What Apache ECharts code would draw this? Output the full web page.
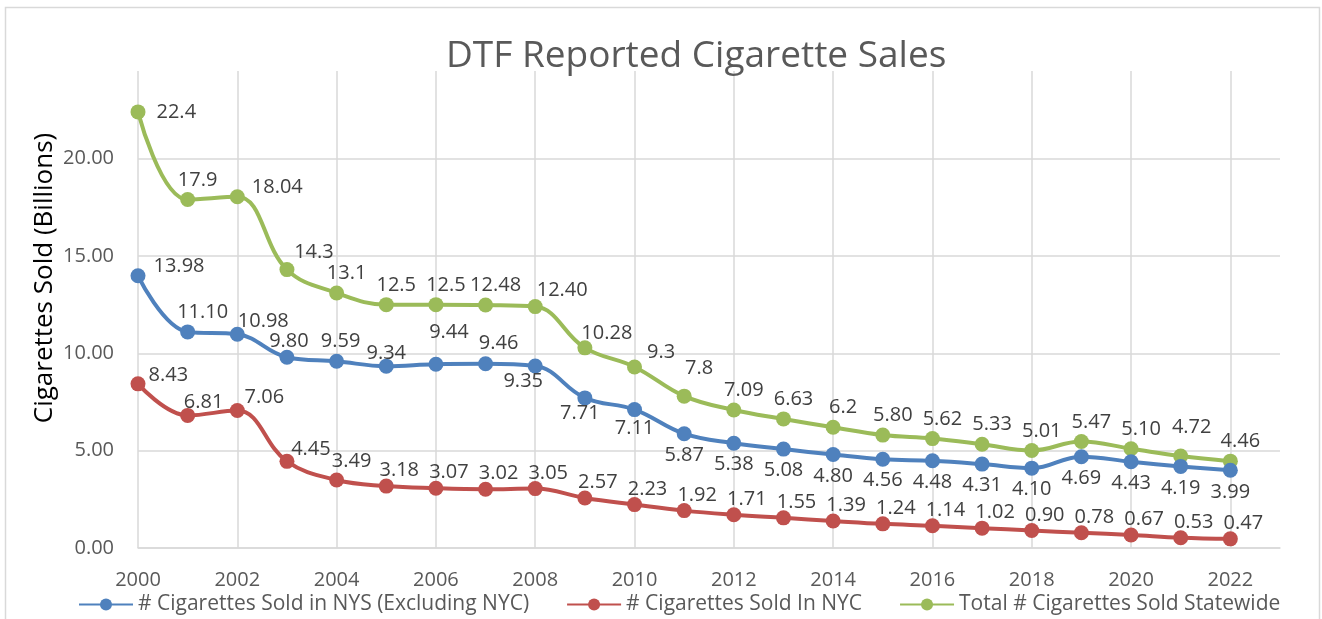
<!DOCTYPE html>
<html lang="en">
<head>
    <meta charset="UTF-8">
    <title>DTF Reported Cigarette Sales</title>
    <script src="https://cdn.jsdelivr.net/npm/echarts@6/dist/echarts.min.js"></script>
    <style>
        *{
            margin: 0;
            padding: 0;
        }
        html,body{
            width: 100%;
            height: 100%;
            background: #fff;
        }
        .main{
            width: 1322px;
            height: 619px;
        }
    </style>
</head>
<body>
<div class="main"></div>
<script>
    // data (labels kept as shown)
    const years = ['2000', '2001', '2002', '2003', '2004', '2005', '2006', '2007', '2008', '2009', '2010', '2011',
        '2012', '2013', '2014', '2015', '2016', '2017', '2018', '2019', '2020', '2021', '2022'];
    const nysExclNyc = ['13.98', '11.10', '10.98', '9.80', '9.59', '9.34', '9.44', '9.46', '9.35', '7.71', '7.11', '5.87',
        '5.38', '5.08', '4.80', '4.56', '4.48', '4.31', '4.10', '4.69', '4.43', '4.19', '3.99'];
    const nyc = ['8.43', '6.81', '7.06', '4.45', '3.49', '3.18', '3.07', '3.02', '3.05', '2.57', '2.23', '1.92',
        '1.71', '1.55', '1.39', '1.24', '1.14', '1.02', '0.90', '0.78', '0.67', '0.53', '0.47'];
    const statewide = ['22.4', '17.9', '18.04', '14.3', '13.1', '12.5', '12.5', '12.48', '12.40', '10.28', '9.3', '7.8',
        '7.09', '6.63', '6.2', '5.80', '5.62', '5.33', '5.01', '5.47', '5.10', '4.72', '4.46'];
    const seriesNames = ['# Cigarettes Sold in NYS (Excluding NYC)', '# Cigarettes Sold In NYC', 'Total # Cigarettes Sold Statewide'];

    const FONT = "'Open Sans', sans-serif";
    const colors = ['#4F81BD', '#C0504D', '#9BBB59'];
    const GRID = '#D9D9D9';

    // hand placed data labels, like the moved ones in the workbook
    const labelBase = [
        {position: 'bottom', offset: [0, -1]},
        {position: 'top', offset: [13, 7]},
        {position: 'top', offset: [10, 3]}
    ];
    const labelTweaks = [
        {
            0: {position: 'right', distance: 8, offset: [0, -10]},
            1: {position: 'top', offset: [15, 3]},
            2: {position: 'top', offset: [26, 10]},
            3: {position: 'top', offset: [2, 7]},
            4: {position: 'top', offset: [4, 3]},
            5: {position: 'top', offset: [0, 10]},
            6: {position: 'top', offset: [13, -9]},
            7: {position: 'top', offset: [13, 2]},
            8: {offset: [-12, -7]},
            9: {offset: [-5, -7]},
            10: {offset: [0, -4]}
        },
        {
            0: {position: 'right', distance: 3, offset: [0, -9]},
            1: {offset: [16, 9]},
            2: {offset: [27, 9]},
            3: {offset: [24, 10]},
            4: {offset: [15, 4]}
        },
        {
            0: {position: 'right', distance: 11, offset: [0, 0]},
            2: {position: 'right', distance: 7, offset: [0, -9]},
            3: {offset: [27, 5]},
            8: {offset: [27, 6]},
            9: {offset: [22, 8]},
            10: {position: 'right', distance: 5, offset: [0, -15]},
            11: {offset: [15, -5]},
            21: {offset: [11, -6]}
        }
    ];

    let main = echarts.init(document.getElementsByClassName('main')[0]);
    let series = [nysExclNyc, nyc, statewide].map((vals, s) => ({
        name: seriesNames[s],
        type: 'line',
        smooth: 0.4,
        symbol: 'circle',
        symbolSize: 15,
        color: colors[s],
        lineStyle: {width: 4},
        z: 10 - s,
        label: {
            show: true,
            position: labelBase[s].position,
            offset: labelBase[s].offset,
            fontFamily: FONT,
            fontSize: 20,
            color: '#404040',
            formatter: p => vals[p.dataIndex]
        },
        data: vals.map((v, i) => {
            let item = {value: +v};
            if (labelTweaks[s][i]) item.label = labelTweaks[s][i];
            return item;
        })
    }));

    let option = {
        animation: false,
        backgroundColor: '#fff',
        title: {
            text: 'DTF Reported Cigarette Sales',
            left: 441,
            top: 33,
            textStyle: {
                fontFamily: FONT,
                fontSize: 37,
                fontWeight: 'normal',
                color: '#595959'
            }
        },
        graphic: [
            {
                type: 'rect',
                shape: {x: 5.5, y: 7.5, width: 1314, height: 640},
                style: {fill: 'none', stroke: GRID, lineWidth: 1.5},
                silent: true
            },
            {
                type: 'text',
                x: 45,
                y: 278,
                rotation: Math.PI / 2,
                style: {
                    text: 'Cigarettes Sold (Billions)',
                    font: '26px ' + FONT,
                    fill: '#000',
                    align: 'center',
                    verticalAlign: 'middle'
                }
            }
        ],
        legend: {
            left: 73,
            bottom: -1,
            itemWidth: 54,
            itemHeight: 15,
            itemGap: 37,
            textStyle: {fontFamily: FONT, fontSize: 21, color: '#595959'},
            data: seriesNames
        },
        grid: {left: 138, right: 42, top: 71, bottom: 71},
        xAxis: {
            type: 'category',
            data: years,
            boundaryGap: false,
            max: years.length,   // one empty step after 2022, as in the workbook
            axisLine: {lineStyle: {color: GRID, width: 1.5}},
            axisTick: {show: false},
            axisLabel: {
                interval: 1,
                margin: 22,
                fontFamily: FONT,
                fontSize: 20,
                color: '#595959',
                formatter: v => v || ''
            },
            splitLine: {show: true, interval: 1, lineStyle: {color: GRID, width: 1.5}}
        },
        yAxis: {
            type: 'value',
            min: 0,
            max: 24.5,
            interval: 5,
            axisLine: {show: false},
            axisTick: {show: false},
            axisLabel: {
                showMaxLabel: false,
                margin: 24,
                fontFamily: FONT,
                fontSize: 20,
                color: '#595959',
                formatter: v => v % 5 === 0 ? v.toFixed(2) : ''
            },
            splitLine: {showMaxLine: false, lineStyle: {color: GRID, width: 1.5}}
        },
        series
    };
    main.setOption(option);
</script>
</body>
</html>
